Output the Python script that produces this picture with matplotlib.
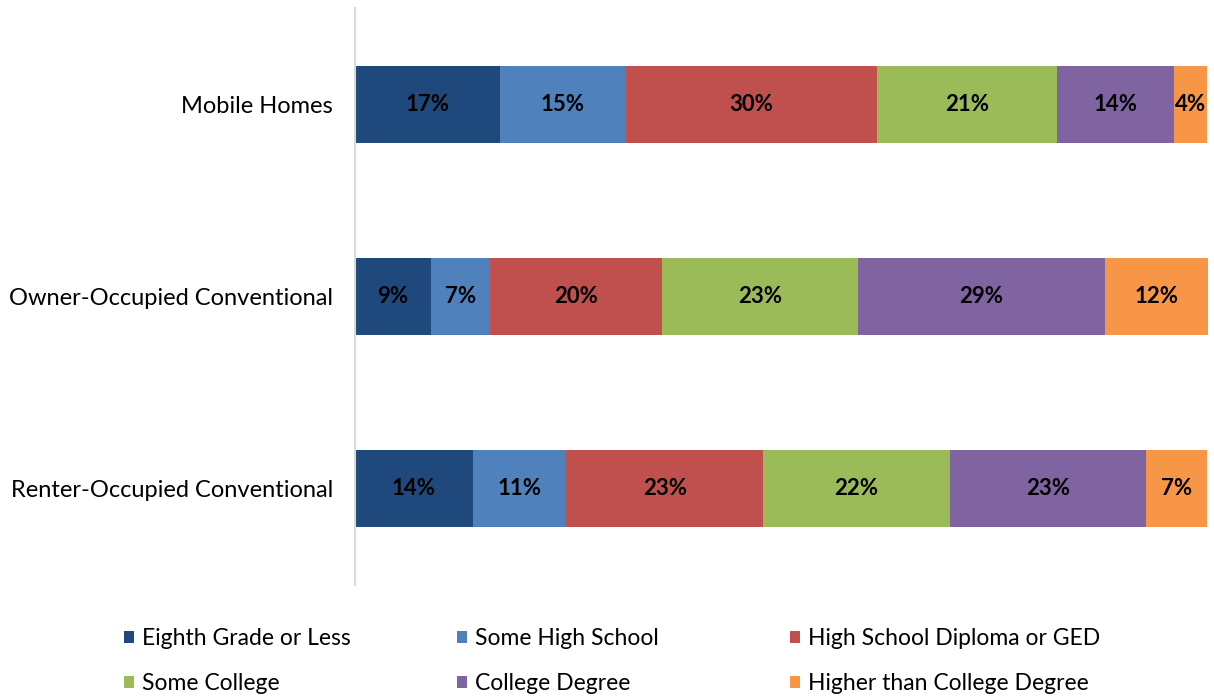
import matplotlib.pyplot as plt
import numpy as np

# categories (top to bottom) and education shares, % of households
categories = ["Mobile Homes", "Owner-Occupied Conventional", "Renter-Occupied Conventional"]
levels = ["Eighth Grade or Less", "Some High School", "High School Diploma or GED",
          "Some College", "College Degree", "Higher than College Degree"]
eighth = [17.0, 8.9, 13.8]
some_hs = [14.8, 6.9, 11.0]
diploma = [29.4, 20.2, 23.1]
some_college = [21.2, 23.0, 21.9]
college = [13.7, 29.0, 23.0]
higher = [3.9, 12.1, 7.2]
# labels as printed on the chart
labels = [
    ["17%", "9%", "14%"],
    ["15%", "7%", "11%"],
    ["30%", "20%", "23%"],
    ["21%", "23%", "22%"],
    ["14%", "29%", "23%"],
    ["4%", "12%", "7%"],
]
colors = ["#1F497D", "#4F81BD", "#C0504D", "#9BBB59", "#8064A2", "#F79646"]

plt.rcParams['font.family'] = ['Lato', 'DejaVu Sans']

fig = plt.figure(figsize=(12.14, 6.98), dpi=100)
ax = fig.add_axes([355 / 1214, 0.162, (1208 - 355) / 1214, 0.8265])

series = [eighth, some_hs, diploma, some_college, college, higher]
y = np.arange(len(categories))
left = np.zeros(len(categories))
handles = []
for vals, name, col, labs in zip(series, levels, colors, labels):
    vals = np.array(vals)
    bars = ax.barh(y, vals, left=left, height=0.4, color=col, label=name)
    handles.append(bars)
    for b, lab in zip(bars, labs):
        ax.text(b.get_x() + b.get_width() / 2, b.get_y() + b.get_height() / 2, lab,
                ha='center', va='center', fontsize=16, fontweight='bold', color='black')
    left += vals

ax.set_xlim(0, left.max())
ax.set_ylim(2.5, -0.5)
ax.set_yticks(y)
ax.set_yticklabels(categories, fontsize=17)
ax.tick_params(axis='y', length=0, pad=16)
ax.set_xticks([])
for s in ['top', 'right', 'bottom']:
    ax.spines[s].set_visible(False)
ax.spines['left'].set_color('#D9D9D9')
ax.spines['left'].set_linewidth(1.5)

# legend: three columns, filled row by row
col_x = [124, 457, 790]
for i, x in enumerate(col_x):
    leg = fig.legend([handles[i], handles[i + 3]], [levels[i], levels[i + 3]],
                     loc='upper left', bbox_to_anchor=(x / 1214, (698 - 628) / 698),
                     frameon=False, fontsize=16.5, handlelength=0.45, handleheight=0.45,
                     handletextpad=0.35, labelspacing=1.05, borderpad=0, borderaxespad=0)

plt.savefig("out.png", dpi=100)
plt.close(fig)
